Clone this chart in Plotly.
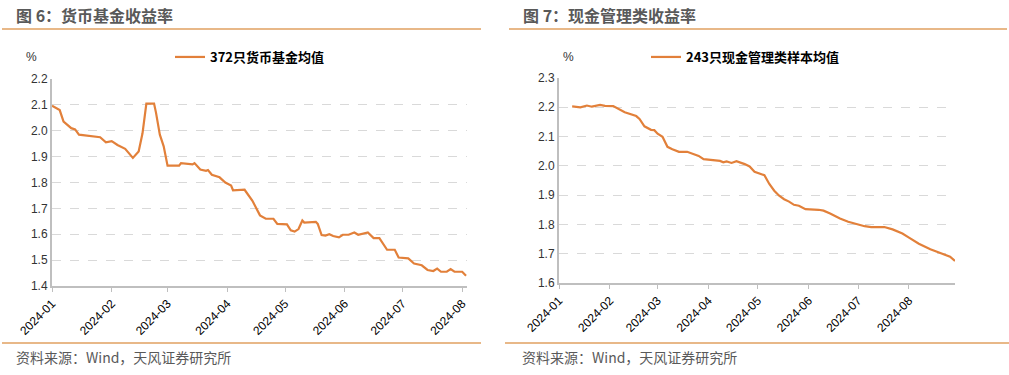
import plotly.graph_objects as go

# ---- Data ----
mmf_dates = ["2024-01-01","2024-01-05","2024-01-07","2024-01-11","2024-01-13","2024-01-15","2024-01-26","2024-01-29",
             "2024-02-01","2024-02-04","2024-02-08","2024-02-12","2024-02-15","2024-02-17","2024-02-19","2024-02-23",
             "2024-02-24","2024-02-26","2024-02-28","2024-03-01","2024-03-07","2024-03-08","2024-03-14","2024-03-15",
             "2024-03-18","2024-03-21","2024-03-22","2024-03-24","2024-03-28","2024-03-31","2024-04-03","2024-04-04",
             "2024-04-10","2024-04-14","2024-04-18","2024-04-21","2024-04-25","2024-04-27","2024-05-02","2024-05-04",
             "2024-05-06","2024-05-08","2024-05-10","2024-05-11","2024-05-17","2024-05-18","2024-05-20","2024-05-22",
             "2024-05-24","2024-05-26","2024-05-29","2024-05-31","2024-06-03","2024-06-06","2024-06-08","2024-06-13",
             "2024-06-16","2024-06-19","2024-06-23","2024-06-27","2024-06-29","2024-07-04","2024-07-07","2024-07-11",
             "2024-07-14","2024-07-17","2024-07-19","2024-07-21","2024-07-24","2024-07-26","2024-07-28","2024-08-01",
             "2024-08-03"]
mmf_values = [2.097,2.08,2.035,2.01,2.005,1.985,1.975,1.955,
              1.96,1.945,1.93,1.895,1.92,1.99,2.105,2.105,
              2.07,1.985,1.94,1.865,1.865,1.875,1.87,1.875,
              1.85,1.845,1.848,1.83,1.82,1.80,1.788,1.77,
              1.772,1.73,1.673,1.66,1.66,1.64,1.638,1.615,
              1.61,1.62,1.653,1.645,1.648,1.64,1.597,1.595,
              1.60,1.593,1.588,1.598,1.598,1.607,1.598,1.607,
              1.585,1.585,1.54,1.54,1.51,1.507,1.487,1.48,
              1.462,1.458,1.467,1.455,1.455,1.465,1.455,1.455,
              1.44]

cash_dates = ["2024-01-09","2024-01-14","2024-01-18","2024-01-21","2024-01-26","2024-01-29","2024-02-03","2024-02-06",
              "2024-02-10","2024-02-17","2024-02-19","2024-02-22","2024-02-26","2024-02-28","2024-03-01","2024-03-04",
              "2024-03-07","2024-03-10","2024-03-14","2024-03-19","2024-03-23","2024-03-26","2024-03-29","2024-04-03",
              "2024-04-08","2024-04-10","2024-04-12","2024-04-15","2024-04-18","2024-04-23","2024-04-26","2024-04-29",
              "2024-05-05","2024-05-08","2024-05-11","2024-05-14","2024-05-17","2024-05-20","2024-05-23","2024-05-26",
              "2024-05-30","2024-06-07","2024-06-10","2024-06-14","2024-06-20","2024-06-25","2024-06-30","2024-07-05",
              "2024-07-09","2024-07-17","2024-07-22","2024-07-28","2024-08-01","2024-08-07","2024-08-14","2024-08-18",
              "2024-08-21","2024-08-26","2024-08-29"]
cash_values = [2.203,2.20,2.206,2.202,2.208,2.205,2.204,2.195,
               2.183,2.17,2.16,2.135,2.123,2.122,2.11,2.099,
               2.065,2.057,2.048,2.048,2.04,2.034,2.023,2.019,
               2.017,2.012,2.015,2.01,2.016,2.006,1.998,1.98,
               1.968,1.938,1.915,1.898,1.886,1.878,1.867,1.864,
               1.852,1.85,1.847,1.8375,1.82,1.809,1.801,1.794,
               1.791,1.791,1.783,1.769,1.755,1.734,1.715,1.707,
               1.70,1.69,1.675]

titles = ["图 6：货币基金收益率", "图 7：现金管理类收益率"]
series_names = ["372只货币基金均值", "243只现金管理类样本均值"]
source_text = "资料来源：Wind，天风证券研究所"

W, H = 1009, 375
LINE = "#E2803A"
RULE = "#E0A060"
CJK = "Noto Sans CJK SC"
NUM = "Liberation Sans"

def px(x):
    return x / W

def py(y):
    return 1 - y / H

fig = go.Figure()
fig.add_trace(go.Scatter(x=mmf_dates, y=mmf_values, mode="lines", name="<b>" + series_names[0] + "</b>",
                         line=dict(color=LINE, width=2.2), xaxis="x", yaxis="y", legend="legend"))
fig.add_trace(go.Scatter(x=cash_dates, y=cash_values, mode="lines", name="<b>" + series_names[1] + "</b>",
                         line=dict(color=LINE, width=2.2), xaxis="x2", yaxis="y2", legend="legend2"))

xcommon = dict(type="date", tickformat="%Y-%m", dtick="M1", tick0="2024-01-01", tickangle=-45,
               showgrid=False, showline=True, linecolor="#BFBFBF", linewidth=2,
               ticks="outside", ticklen=4, tickcolor="#BFBFBF", automargin=False,
               tickfont=dict(family=NUM, size=12, color="#000000"), zeroline=False)
ycommon = dict(dtick=0.1, tickformat=".1f", showgrid=True, gridcolor="#D9D9D9", griddash="dash", gridwidth=1,
               showline=True, linecolor="#BFBFBF", linewidth=2, ticks="", zeroline=False, automargin=False,
               tickfont=dict(family=NUM, size=12, color="#333333"))

fig.update_layout(
    width=W, height=H,
    margin=dict(l=0, r=0, t=0, b=0, autoexpand=False),
    paper_bgcolor="white", plot_bgcolor="white",
    showlegend=True,
    xaxis=dict(domain=[px(52), px(467)], range=["2024-01-01", "2024-08-03 12:00"], anchor="y", **xcommon),
    yaxis=dict(domain=[py(286), py(79)], range=[1.4, 2.2], anchor="x", **ycommon),
    xaxis2=dict(domain=[px(559), px(955)], range=["2024-01-01", "2024-08-29"], anchor="y2", **xcommon),
    yaxis2=dict(domain=[py(283), py(78)], range=[1.6, 2.3], anchor="x2", **ycommon),
    legend=dict(x=px(170), y=py(57), xanchor="left", yanchor="middle", bgcolor="rgba(0,0,0,0)",
                font=dict(family=CJK, size=13, color="#000000"), itemwidth=30),
    legend2=dict(x=px(646), y=py(57), xanchor="left", yanchor="middle", bgcolor="rgba(0,0,0,0)",
                 font=dict(family=CJK, size=13, color="#000000"), itemwidth=30),
)

annotations = []
for x0, t in [(14, titles[0]), (521, titles[1])]:
    annotations.append(dict(x=px(x0), y=py(15), xref="paper", yref="paper", xanchor="left", yanchor="middle",
                            text="<b>" + t + "</b>", showarrow=False,
                            font=dict(family=CJK, size=16, color="#595959")))
for x0 in [14, 520]:
    annotations.append(dict(x=px(x0), y=py(357), xref="paper", yref="paper", xanchor="left", yanchor="middle",
                            text=source_text, showarrow=False,
                            font=dict(family=CJK, size=14, color="#595959")))
for x0 in [31, 568]:
    annotations.append(dict(x=px(x0), y=py(57), xref="paper", yref="paper", xanchor="center", yanchor="middle",
                            text="%", showarrow=False, font=dict(family=NUM, size=12, color="#333333")))
fig.update_layout(annotations=annotations)

shapes = []
for (a, b) in [(2, 481), (509, 1007)]:
    shapes.append(dict(type="line", xref="paper", yref="paper", x0=px(a), x1=px(b), y0=py(29), y1=py(29),
                       line=dict(color=RULE, width=1.5)))
for (a, b) in [(2, 481), (505, 1009)]:
    shapes.append(dict(type="line", xref="paper", yref="paper", x0=px(a), x1=px(b), y0=py(343), y1=py(343),
                       line=dict(color=RULE, width=1.5)))
fig.update_layout(shapes=shapes)

fig.write_html("out.html", config={"displayModeBar": False},
               post_script="document.body.style.margin='0';document.body.style.padding='0';")
